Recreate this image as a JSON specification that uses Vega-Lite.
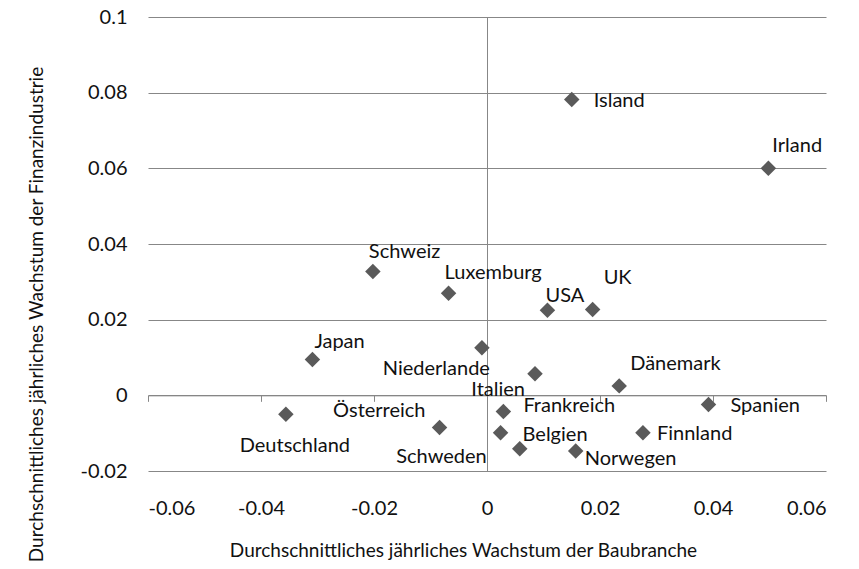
{
  "$schema": "https://vega.github.io/schema/vega-lite/v6.json",
  "width": 678,
  "height": 454,
  "autosize": "none",
  "padding": {"left": 148, "top": 17, "right": 33, "bottom": 98},
  "background": "white",
  "config": {
    "view": {"stroke": null},
    "font": "Lato",
    "text": {"font": "Lato", "fontSize": 20, "color": "#111111"}
  },
  "data": {
    "values": [
      {"land": "Island", "bau": 0.0150, "finanz": 0.0782},
      {"land": "Irland", "bau": 0.0498, "finanz": 0.0600},
      {"land": "Schweiz", "bau": -0.0202, "finanz": 0.0327},
      {"land": "Luxemburg", "bau": -0.0068, "finanz": 0.0270},
      {"land": "Japan", "bau": -0.0309, "finanz": 0.0095},
      {"land": "Niederlande", "bau": -0.0009, "finanz": 0.0126},
      {"land": "USA", "bau": 0.0107, "finanz": 0.0225},
      {"land": "UK", "bau": 0.0187, "finanz": 0.0227},
      {"land": "Italien", "bau": 0.0085, "finanz": 0.0057},
      {"land": "Dänemark", "bau": 0.0234, "finanz": 0.0025},
      {"land": "Spanien", "bau": 0.0392, "finanz": -0.0024},
      {"land": "Frankreich", "bau": 0.0029, "finanz": -0.0043},
      {"land": "Belgien", "bau": 0.0024, "finanz": -0.0099},
      {"land": "Finnland", "bau": 0.0276, "finanz": -0.0099},
      {"land": "Norwegen", "bau": 0.0157, "finanz": -0.0147},
      {"land": "Schweden", "bau": 0.0058, "finanz": -0.0141},
      {"land": "Österreich", "bau": -0.0084, "finanz": -0.0085},
      {"land": "Deutschland", "bau": -0.0356, "finanz": -0.0050}
    ]
  },
  "encoding": {
    "x": {
      "field": "bau",
      "type": "quantitative",
      "scale": {"domain": [-0.06, 0.06], "nice": false, "zero": false},
      "axis": {
        "orient": "bottom",
        "offset": -75.67,
        "values": [-0.06, -0.04, -0.02, 0, 0.02, 0.04, 0.06],
        "labelExpr": "'' + datum.value",
        "grid": false,
        "domain": true,
        "domainColor": "#878787",
        "ticks": true,
        "tickSize": 6,
        "tickColor": "#878787",
        "labelPadding": 97,
        "labelFont": "Lato",
        "labelFontSize": 20,
        "labelColor": "#111111",
        "title": "Durchschnittliches jährliches Wachstum der Baubranche",
        "titleFont": "Lato",
        "titleFontSize": 19,
        "titleFontWeight": "normal",
        "titleColor": "#111111",
        "titleX": 315,
        "titleY": 155,
        "titleBaseline": "middle"
      }
    },
    "y": {
      "field": "finanz",
      "type": "quantitative",
      "scale": {"domain": [-0.02, 0.1], "nice": false, "zero": false},
      "axis": {
        "orient": "left",
        "offset": -339,
        "values": [-0.02, 0, 0.02, 0.04, 0.06, 0.08, 0.1],
        "labelExpr": "'' + datum.value",
        "grid": true,
        "gridColor": "#878787",
        "domain": true,
        "domainColor": "#878787",
        "ticks": true,
        "tickSize": 6,
        "tickColor": "#878787",
        "labelPadding": 354,
        "labelFont": "Lato",
        "labelFontSize": 20,
        "labelColor": "#111111",
        "title": "Durchschnittliches  jährliches Wachstum der Finanzindustrie",
        "titleFont": "Lato",
        "titleFontSize": 19,
        "titleFontWeight": "normal",
        "titleColor": "#111111",
        "titleAngle": -90,
        "titleX": -451,
        "titleY": 297,
        "titleBaseline": "middle"
      }
    }
  },
  "layer": [
    {
      "mark": {"type": "point", "shape": "diamond", "filled": true, "size": 240, "color": "#5a5a5a", "opacity": 1}
    },
    {"transform": [{"filter": "datum.land == 'Island' || datum.land == 'Spanien' || datum.land == 'Belgien'"}],
     "mark": {"type": "text", "align": "left", "baseline": "middle", "dx": 22, "dy": 2},
     "encoding": {"text": {"field": "land"}}},
    {"transform": [{"filter": "datum.land == 'Irland'"}],
     "mark": {"type": "text", "align": "left", "baseline": "middle", "dx": 4, "dy": -22},
     "encoding": {"text": {"field": "land"}}},
    {"transform": [{"filter": "datum.land == 'Schweiz' || datum.land == 'Luxemburg'"}],
     "mark": {"type": "text", "align": "left", "baseline": "middle", "dx": -4, "dy": -20},
     "encoding": {"text": {"field": "land"}}},
    {"transform": [{"filter": "datum.land == 'Japan'"}],
     "mark": {"type": "text", "align": "left", "baseline": "middle", "dx": 2, "dy": -17},
     "encoding": {"text": {"field": "land"}}},
    {"transform": [{"filter": "datum.land == 'USA'"}],
     "mark": {"type": "text", "align": "left", "baseline": "middle", "dx": -2, "dy": -14},
     "encoding": {"text": {"field": "land"}}},
    {"transform": [{"filter": "datum.land == 'UK'"}],
     "mark": {"type": "text", "align": "left", "baseline": "middle", "dx": 11, "dy": -31},
     "encoding": {"text": {"field": "land"}}},
    {"transform": [{"filter": "datum.land == 'Dänemark'"}],
     "mark": {"type": "text", "align": "left", "baseline": "middle", "dx": 11, "dy": -22},
     "encoding": {"text": {"field": "land"}}},
    {"transform": [{"filter": "datum.land == 'Frankreich'"}],
     "mark": {"type": "text", "align": "left", "baseline": "middle", "dx": 20, "dy": -6},
     "encoding": {"text": {"field": "land"}}},
    {"transform": [{"filter": "datum.land == 'Finnland'"}],
     "mark": {"type": "text", "align": "left", "baseline": "middle", "dx": 14, "dy": 1},
     "encoding": {"text": {"field": "land"}}},
    {"transform": [{"filter": "datum.land == 'Norwegen'"}],
     "mark": {"type": "text", "align": "left", "baseline": "middle", "dx": 9, "dy": 8},
     "encoding": {"text": {"field": "land"}}},
    {"transform": [{"filter": "datum.land == 'Niederlande'"}],
     "mark": {"type": "text", "align": "right", "baseline": "middle", "dx": 8, "dy": 21},
     "encoding": {"text": {"field": "land"}}},
    {"transform": [{"filter": "datum.land == 'Italien'"}],
     "mark": {"type": "text", "align": "right", "baseline": "middle", "dx": -10, "dy": 16},
     "encoding": {"text": {"field": "land"}}},
    {"transform": [{"filter": "datum.land == 'Schweden'"}],
     "mark": {"type": "text", "align": "right", "baseline": "middle", "dx": -33, "dy": 8},
     "encoding": {"text": {"field": "land"}}},
    {"transform": [{"filter": "datum.land == 'Österreich'"}],
     "mark": {"type": "text", "align": "right", "baseline": "middle", "dx": -14, "dy": -16},
     "encoding": {"text": {"field": "land"}}},
    {"transform": [{"filter": "datum.land == 'Deutschland'"}],
     "mark": {"type": "text", "align": "center", "baseline": "middle", "dx": 9, "dy": 32},
     "encoding": {"text": {"field": "land"}}}
  ]
}
